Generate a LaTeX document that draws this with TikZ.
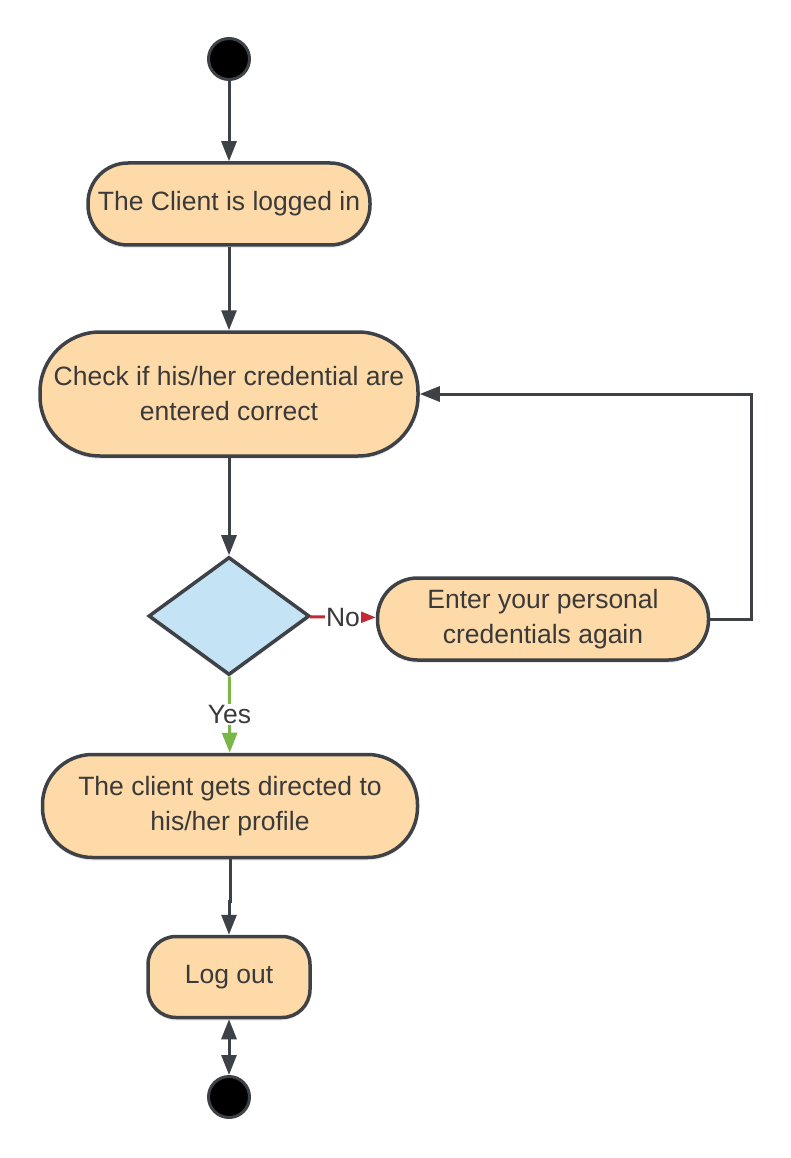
\documentclass[tikz,border=0pt]{standalone}
\usepackage{fontspec}
\setmainfont{Liberation Sans}
\usetikzlibrary{shapes.geometric,arrows.meta,shadows}

\definecolor{lineclr}{RGB}{62,66,70}
\definecolor{txtclr}{RGB}{58,58,58}
\definecolor{actfill}{RGB}{253,218,168}
\definecolor{decfill}{RGB}{196,227,245}
\definecolor{nored}{RGB}{196,40,52}
\definecolor{yesgreen}{RGB}{122,182,72}

\tikzset{
  act/.style={rectangle, rounded corners=#1, draw=lineclr, line width=3.5pt,
    fill=actfill, align=center, inner sep=0pt, text=txtclr,
    font=\fontsize{26.5}{35}\selectfont,
    drop shadow={opacity=0.15, shadow xshift=0pt, shadow yshift=-3pt}},
  dot/.style={circle, draw=lineclr, line width=3pt, fill=black,
    minimum size=41pt, inner sep=0pt},
  lbl/.style={fill=white, inner sep=1pt, text=txtclr,
    font=\fontsize{26.5}{35}\selectfont},
  tip/.style={Triangle[width=15pt,length=20pt]},
  arr/.style={draw=lineclr, line width=3pt, -{Triangle[width=15pt,length=20pt]}},
}

\begin{document}
\begin{tikzpicture}[x=1pt,y=-1pt]
\useasboundingbox (0,0) rectangle (790,1158);

\node[dot] (start) at (229,59) {};
\node[act=40pt, minimum width=282pt, minimum height=82pt] (login) at (229,204) {The Client is logged in};
\node[act=60pt, minimum width=378pt, minimum height=124pt] (check) at (229,394) {Check if his/her credential are\\entered correct};
\node[diamond, draw=lineclr, line width=3.5pt, fill=decfill, minimum width=161pt,
  minimum height=118pt, inner sep=0pt,
  drop shadow={opacity=0.15, shadow xshift=0pt, shadow yshift=-3pt}] (dec) at (229,616) {};
\node[act=40pt, minimum width=331pt, minimum height=82pt] (retry) at (543,619) {Enter your personal\\credentials again};
\node[act=50pt, minimum width=375pt, minimum height=103pt] (prof) at (230,806) {The client gets directed to\\his/her profile};
\node[act=28pt, minimum width=162pt, minimum height=81pt] (logout) at (229,977) {Log out};
\node[dot] (stop) at (229,1097) {};

\draw[arr] (start) -- (login);
\draw[arr] (login) -- (check);
\draw[arr] (check) -- (dec);
\draw[arr, draw=nored] (dec) -- node[lbl] {No} (retry);
\draw[arr] (retry.east) -- ++(41,0) |- (check.east);
\draw[arr, draw=yesgreen] (dec) -- node[lbl] {Yes} (prof);
\draw[arr] (prof.south) -- ++(0,42) -| (logout.north);
\draw[draw=lineclr, line width=3pt, {Triangle[width=15pt,length=20pt]}-{Triangle[width=15pt,length=20pt]}] (logout) -- (stop);
\end{tikzpicture}
\end{document}
